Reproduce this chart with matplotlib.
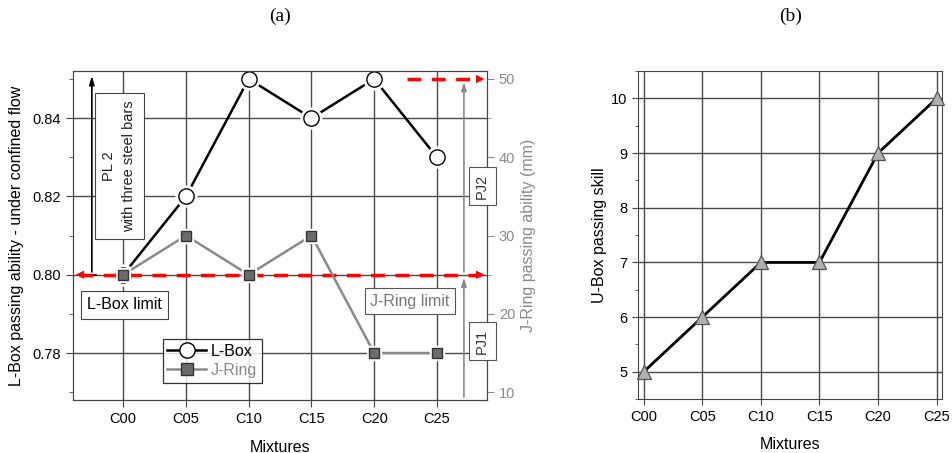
import matplotlib
matplotlib.use('Agg')
import matplotlib.pyplot as plt
from matplotlib.ticker import MultipleLocator

plt.rcParams['font.family'] = ['Liberation Sans', 'DejaVu Sans']

mixtures = ['C00', 'C05', 'C10', 'C15', 'C20', 'C25']
lbox = [0.80, 0.82, 0.85, 0.84, 0.85, 0.83]
jring = [25, 30, 25, 30, 15, 15]
ubox = [5, 6, 7, 7, 9, 10]

lbox_limit = 0.80
jring_limit = 25
jring_top = 50

x = list(range(len(mixtures)))
grid_col = '#4a4a4a'
grey = '#8a8a8a'

fig = plt.figure(figsize=(9.52, 4.53), dpi=100)

# ---------- (a) L-Box / J-Ring ----------
ax1 = fig.add_axes([0.0767, 0.117, 0.435, 0.726])
ax2 = ax1.twinx()

ax1.set_xlim(-0.8, 5.8)
ax1.set_ylim(0.768, 0.852)
ax2.set_ylim(9, 51)
ax1.set_xticks(x)
ax1.set_xticklabels(mixtures)
ax1.set_yticks([0.78, 0.80, 0.82, 0.84])
ax1.yaxis.set_minor_locator(MultipleLocator(0.01))
ax2.set_yticks([10, 20, 30, 40, 50])
ax2.yaxis.set_minor_locator(MultipleLocator(5))
ax1.grid(True, color=grid_col, lw=1)
ax1.set_axisbelow(True)

ax1.tick_params(axis='both', direction='out', labelsize=10.5, length=5, color='#444')
ax1.tick_params(axis='y', which='minor', length=3, color='#444')
ax2.tick_params(axis='y', direction='out', labelsize=10.5, length=5, colors=grey)
ax2.tick_params(axis='y', which='minor', length=3, color=grey)
for sp in ax1.spines.values():
    sp.set_color('#444')
for sp in ax2.spines.values():
    sp.set_color('#444')

# L-Box series: line with gaps around open circles
ax1.plot(x, lbox, color='black', lw=1.8, zorder=3)
ax1.plot(x, lbox, ls='none', marker='o', ms=15, mfc='white', mec='white', zorder=4)
l1, = ax1.plot(x, lbox, ls='none', marker='o', ms=11, mfc='white', mec='black',
               mew=1.0, zorder=5)

# J-Ring series on the mm axis
ax2.plot(x, jring, color=grey, lw=1.8, zorder=3)
ax2.plot(x, jring, ls='none', marker='s', ms=10.5, mfc='white', mec='white', zorder=4)
l2, = ax2.plot(x, jring, ls='none', marker='s', ms=7.5, mfc='#6b6b6b', mec='#333333',
               mew=1.0, zorder=5)

# red dashed limit lines with arrow heads
ax1.plot([-0.7, 5.7], [lbox_limit, lbox_limit], color='red', ls=(0, (4, 3)), lw=2.5, zorder=6)
ax1.annotate('', xy=(-0.8, lbox_limit), xytext=(-0.6, lbox_limit),
             arrowprops=dict(arrowstyle='-|>,head_length=0.6,head_width=0.3', color='red', lw=0),
             zorder=7)
ax1.annotate('', xy=(5.8, lbox_limit), xytext=(5.6, lbox_limit),
             arrowprops=dict(arrowstyle='-|>,head_length=0.6,head_width=0.3', color='red', lw=0),
             zorder=7)
ax2.plot([4.52, 5.7], [jring_top, jring_top], color='red', ls=(0, (4, 3)), lw=2.5, zorder=6)
ax2.annotate('', xy=(5.8, jring_top), xytext=(5.6, jring_top),
             arrowprops=dict(arrowstyle='-|>,head_length=0.6,head_width=0.3', color='red', lw=0),
             zorder=7)

# PL 2 arrow and box
ax1.annotate('', xy=(-0.5, 0.8515), xytext=(-0.5, lbox_limit),
             arrowprops=dict(arrowstyle='-|>,head_length=0.5,head_width=0.15', color='black', lw=1.2))
ax1.plot([-0.56, -0.44], [lbox_limit, lbox_limit], color='black', lw=1.2)
ax1.text(-0.06, 0.8277, 'PL 2\nwith three steel bars', rotation=90, ha='center', va='center',
         fontsize=10.5, linespacing=1.55, color='#222',
         bbox=dict(boxstyle='square,pad=0.5', fc='white', ec='#444', lw=0.8))
ax1.text(0.02, 0.7923, 'L-Box limit', ha='center', va='center', fontsize=11.5,
         bbox=dict(boxstyle='square,pad=0.4', fc='white', ec='#444', lw=0.8))

# PJ arrows on the J-Ring side
ax2.annotate('', xy=(5.43, jring_limit), xytext=(5.43, 9),
             arrowprops=dict(arrowstyle='-|>,head_length=0.5,head_width=0.15', color=grey, lw=1.2))
ax2.annotate('', xy=(5.43, jring_top), xytext=(5.43, jring_limit),
             arrowprops=dict(arrowstyle='-|>,head_length=0.5,head_width=0.15', color=grey, lw=1.2))
ax2.text(5.72, 36.3, 'PJ2', rotation=90, ha='center', va='center', fontsize=10.5, color='#333',
         bbox=dict(boxstyle='square,pad=0.45', fc='white', ec='#555', lw=0.8), clip_on=False, zorder=8)
ax2.text(5.72, 16.5, 'PJ1', rotation=90, ha='center', va='center', fontsize=10.5, color='#333',
         bbox=dict(boxstyle='square,pad=0.45', fc='white', ec='#555', lw=0.8), clip_on=False, zorder=8)
ax2.text(4.57, 21.6, 'J-Ring limit', ha='center', va='center', fontsize=11.5, color='#777',
         bbox=dict(boxstyle='square,pad=0.35', fc='white', ec='#555', lw=0.8))

leg_handles = [
    plt.Line2D([], [], color='black', lw=1.8, marker='o', ms=11, mfc='white', mec='black'),
    plt.Line2D([], [], color=grey, lw=1.8, marker='s', ms=8, mfc='#6b6b6b', mec='#333333'),
]
leg = ax2.legend(leg_handles, ['L-Box', 'J-Ring'], loc='upper left', bbox_to_anchor=(0.205, 0.2),
                 fontsize=11.5, frameon=True, fancybox=False, edgecolor='black', borderpad=0.3,
                 handlelength=2.4, handletextpad=0.3, labelspacing=0.25, borderaxespad=0.3)
leg.get_frame().set_linewidth(0.9)
leg.get_texts()[1].set_color(grey)

ax1.set_xlabel('Mixtures', fontsize=11.5, labelpad=10)
ax1.set_ylabel('L-Box passing ability - under confined flow', fontsize=11.5, labelpad=6)
ax2.set_ylabel('J-Ring passing ability (mm)', fontsize=11.5, color=grey, labelpad=4)
ax1.set_title('(a)', fontsize=14, family='Liberation Serif', pad=36)

# ---------- (b) U-Box ----------
ax3 = fig.add_axes([0.670, 0.119, 0.320, 0.724])
ax3.set_xlim(-0.1, 5.1)
ax3.set_ylim(4.5, 10.5)
ax3.set_xticks(x)
ax3.set_xticklabels(mixtures)
ax3.set_yticks([5, 6, 7, 8, 9, 10])
ax3.yaxis.set_minor_locator(MultipleLocator(0.5))
ax3.grid(True, color=grid_col, lw=1)
ax3.set_axisbelow(True)
ax3.tick_params(axis='both', direction='out', labelsize=10.5, length=4, color='#444')
ax3.tick_params(axis='y', which='minor', length=2.5, color='#444')
for sp in ax3.spines.values():
    sp.set_color('#444')
ax3.plot(x, ubox, color='black', lw=2, zorder=3)
ax3.plot(x, ubox, ls='none', marker='^', ms=10, mfc='#b0b0b0', mec='#555555', mew=0.9,
         zorder=4, clip_on=False)
ax3.set_xlabel('Mixtures', fontsize=11.5, labelpad=10)
ax3.set_ylabel('U-Box passing skill', fontsize=11.5, labelpad=3)
ax3.set_title('(b)', fontsize=14, family='Liberation Serif', pad=36)

fig.savefig('out.png', dpi=100)
